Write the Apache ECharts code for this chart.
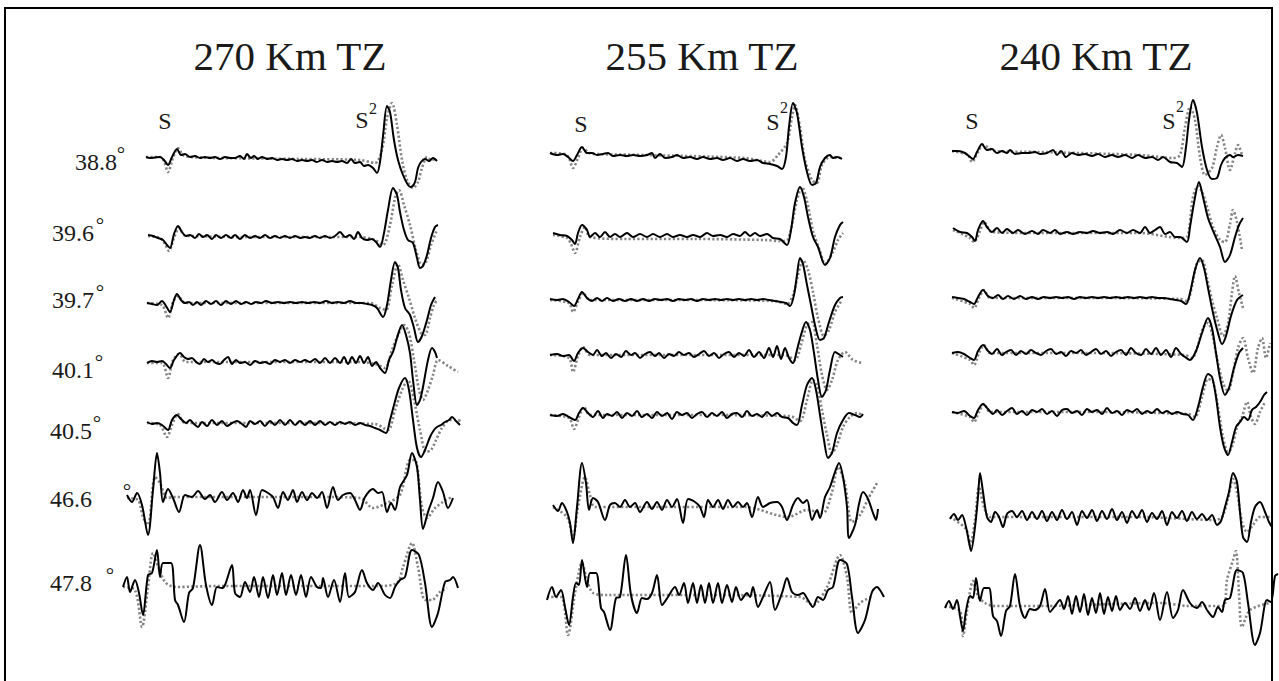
<!DOCTYPE html>
<html>
<head>
<meta charset="utf-8">
<script src="https://cdn.jsdelivr.net/npm/echarts@6/dist/echarts.min.js"></script>
<style>
  html, body { margin: 0; padding: 0; background: #fff; }
  #chart { width: 1279px; height: 681px; }
</style>
</head>
<body>
<div id="chart"></div>
<script>
// Transition-zone depth of each model column
const panelTitles = ['270 Km TZ', '255 Km TZ', '240 Km TZ'];
// Epicentral distance of each station (degrees), top to bottom
const distances = ['38.8', '39.6', '39.7', '40.1', '40.5', '46.6', '47.8'];
// Phase names
const phaseS = 'S';
const phaseS2 = 'S';
const phaseS2Index = '2';

// Waveforms: [time sample, amplitude]; obs = recorded (solid), syn = synthetic (dotted)
// ---- 270 km ----
const obs270_388 = [[26,1],[30,0],[35,0.5],[40,1],[44,-2],[48,-7],[52,1],[57,9],[61,3],[65,4],[70,1],[75,2],[80,0],[85,1],[90,0],[95,1],[100,-1],[105,1],[110,0],[115,0],[120,2],[124,-1],[127,4],[131,0],[134,2],[138,-1],[142,1],[147,-1],[152,0],[157,-2],[162,-1],[167,-2],[172,-1],[177,-3],[182,-2],[187,-3],[192,-2],[197,-4],[202,-2],[207,-4],[212,-3],[217,-4],[222,-3],[227,-5],[231,-1],[235,-5],[240,-4],[244,-8],[248,-7],[253,-10],[257,-15],[260,-4],[263,22],[267,52],[270,46],[274,18],[278,-2],[283,-17],[288,-27],[291,-29],[295,-24],[298,-10],[301,-4],[305,-1],[309,-3],[313,0],[317,-3]];
const syn270_388 = [[26,1],[40,1],[44,-3],[48,-14],[53,0],[58,10],[63,3],[70,1],[100,0],[180,-1],[240,-2],[255,-5],[262,8],[267,40],[272,55],[277,33],[282,-2],[287,-22],[293,-30],[298,-24],[302,-10],[307,1],[311,-2],[316,-1]];
const obs270_396 = [[28,2],[33,1],[38,-1],[43,-3],[47,-8],[50,-11],[54,3],[58,11],[62,5],[66,1],[70,2],[75,-1],[79,3],[83,0],[87,2],[92,-2],[96,2],[101,-1],[106,2],[111,-1],[115,2],[120,-2],[125,2],[130,-1],[135,1],[140,-1],[145,2],[150,-1],[155,1],[160,-1],[165,1],[170,-1],[175,1],[180,-1],[185,0],[190,-1],[195,1],[200,-1],[205,1],[210,-1],[215,1],[220,5],[225,0],[230,2],[234,-2],[238,5],[242,-1],[247,-3],[252,-2],[256,-5],[260,-10],[264,4],[268,27],[273,49],[277,42],[280,25],[284,7],[288,-3],[293,-6],[297,-21],[300,-31],[303,-29],[307,-18],[311,-1],[315,10],[318,12]];
const syn270_396 = [[28,1],[40,-1],[45,-7],[49,-14],[54,-1],[59,9],[64,2],[70,1],[130,0],[240,0],[255,-3],[263,-8],[270,12],[275,39],[279,47],[284,32],[290,12],[296,-13],[302,-28],[306,-25],[311,-8],[317,7]];
const obs270_397 = [[27,0],[32,-1],[37,-2],[42,2],[46,-3],[50,-9],[54,3],[57,9],[61,3],[65,0],[69,1],[73,-2],[77,1],[81,-2],[86,2],[91,-1],[96,2],[101,-2],[106,2],[111,-1],[116,2],[121,-1],[126,1],[131,-1],[136,1],[141,0],[146,2],[152,0],[158,1],[164,0],[170,1],[176,0],[182,1],[188,0],[194,1],[200,0],[206,2],[212,0],[218,1],[224,0],[230,2],[236,0],[242,0],[247,-1],[252,-2],[257,-5],[263,-14],[267,-2],[271,23],[275,41],[278,35],[281,13],[285,-5],[290,-12],[294,-25],[298,-39],[302,-33],[307,-17],[311,-2],[315,6]];
const syn270_397 = [[27,0],[42,-2],[48,-15],[53,1],[58,7],[65,0],[180,0],[250,0],[260,-5],[266,-7],[272,18],[278,39],[283,23],[289,5],[295,-15],[301,-30],[305,-32],[310,-15],[314,-2],[317,3]];
const obs270_401 = [[27,-1],[32,1],[37,0],[42,1],[46,-2],[50,-6],[54,2],[60,9],[64,5],[68,3],[72,4],[76,0],[80,-2],[84,3],[88,0],[92,2],[96,-1],[100,-2],[104,2],[108,5],[112,-2],[116,2],[120,-1],[125,0],[130,-3],[135,1],[140,-1],[145,0],[150,-2],[155,2],[160,0],[165,2],[170,-1],[175,2],[180,0],[185,2],[190,0],[195,3],[200,-1],[205,4],[210,-1],[215,4],[220,-1],[224,5],[228,-2],[232,5],[236,-1],[240,6],[244,-1],[248,5],[252,-4],[256,0],[260,-6],[265,-11],[269,2],[273,10],[277,24],[282,37],[286,27],[290,9],[293,-18],[297,-43],[300,-38],[303,-25],[308,2],[312,14],[315,10],[317,4]];
const syn270_401 = [[27,-1],[42,-1],[48,-16],[53,2],[59,8],[66,0],[180,0],[240,0],[255,-2],[265,-6],[272,12],[278,27],[284,37],[289,29],[294,2],[299,-28],[303,-38],[308,-28],[313,-13],[318,2],[328,-4],[338,-10]];
const obs270_405 = [[27,1],[32,-1],[37,0],[42,-2],[48,-7],[52,3],[57,8],[61,4],[66,0],[70,3],[74,-1],[78,-4],[82,1],[87,-3],[92,3],[97,-2],[102,2],[107,-3],[112,0],[117,2],[122,-1],[126,-4],[130,2],[135,-1],[140,2],[145,-3],[150,2],[155,-2],[160,3],[165,-2],[170,3],[175,-2],[180,2],[185,-2],[190,2],[195,-2],[200,2],[205,-2],[210,1],[215,-2],[220,1],[225,-1],[230,1],[235,-2],[240,0],[245,-2],[250,-3],[255,-5],[260,-7],[266,-10],[270,3],[274,18],[279,35],[285,45],[289,33],[293,3],[297,-25],[301,-34],[305,-27],[310,-14],[314,-7],[317,-4],[321,-2],[325,1],[329,3],[332,6],[336,2],[340,-2]];
const syn270_405 = [[27,0],[40,-2],[47,-14],[52,-2],[58,9],[65,0],[180,0],[255,-1],[268,-7],[275,13],[282,33],[288,43],[294,23],[300,-7],[306,-29],[311,-27],[316,-17],[322,-5],[330,3],[336,3],[342,2]];
const obs270_466 = [[7,2],[12,-5],[17,4],[22,-8],[28,-38],[33,7],[37,44],[40,24],[43,-5],[48,8],[53,-1],[59,-15],[65,2],[72,0],[78,6],[85,-2],[90,2],[95,-5],[102,5],[107,-3],[113,4],[118,-5],[123,7],[127,-1],[130,7],[136,-18],[142,7],[148,4],[153,0],[158,-11],[163,5],[168,-3],[173,7],[177,-5],[182,5],[187,-3],[192,4],[197,-1],[202,5],[207,-11],[213,10],[218,-3],[223,2],[230,4],[235,-3],[240,-13],[245,0],[253,8],[258,4],[262,5],[267,-15],[271,-6],[275,-13],[280,10],[287,22],[292,44],[297,30],[300,-3],[303,-32],[308,-15],[313,-1],[318,15],[323,5],[328,-11],[333,-1]];
const syn270_466 = [[7,-1],[18,-3],[23,-20],[28,-28],[35,20],[40,14],[47,-1],[55,0],[200,0],[240,-1],[253,-11],[267,-6],[280,2],[290,37],[295,37],[302,-10],[307,-21],[315,-11],[323,-5],[332,0]];
const obs270_478 = [[3,-1],[7,9],[10,-6],[15,6],[19,-7],[23,-29],[28,11],[32,13],[37,36],[40,9],[43,23],[51,23],[55,-14],[58,-19],[64,-36],[69,-7],[73,-2],[80,41],[86,1],[92,-19],[97,-1],[102,-2],[105,1],[112,21],[115,-7],[120,-11],[125,4],[130,-6],[134,9],[139,-11],[143,9],[148,-12],[153,11],[157,-9],[162,13],[166,-9],[171,11],[176,-9],[181,11],[186,-11],[191,9],[197,-1],[201,-2],[203,8],[208,-11],[214,6],[220,-16],[225,13],[229,-11],[235,-6],[242,16],[247,3],[253,-4],[258,3],[265,-9],[270,-12],[275,-1],[280,6],[285,9],[292,36],[299,31],[305,3],[312,-41],[318,-27],[325,4],[330,6],[333,9],[338,-2]];
const syn270_478 = [[3,-1],[15,-4],[22,-41],[28,-1],[33,33],[38,20],[45,4],[55,-1],[100,0],[257,0],[277,3],[283,19],[292,43],[298,19],[305,-14],[312,-14],[320,-6],[327,-2]];

// ---- 255 km ----
const obs255_388 = [[5,2],[12,0],[18,1],[23,-2],[28,-6],[32,0],[37,8],[42,2],[47,2],[52,0],[58,1],[63,2],[68,-1],[75,0],[82,-1],[88,0],[95,-1],[102,0],[107,2],[110,-3],[115,1],[120,-3],[127,-2],[132,0],[138,-3],[145,-2],[152,-4],[158,-2],[165,-4],[172,-3],[178,-5],[185,-3],[192,-6],[198,-4],[205,-6],[212,-5],[218,-8],[225,-9],[232,-11],[237,-14],[241,-2],[244,28],[248,52],[252,42],[257,8],[262,-17],[267,-30],[271,-28],[275,-12],[280,-3],[285,0],[288,-3],[292,-2],[297,-4]];
const syn255_388 = [[5,2],[20,1],[24,-3],[28,-13],[33,-3],[38,7],[44,2],[50,1],[100,0],[200,-3],[225,-7],[233,0],[242,12],[247,38],[250,50],[255,28],[260,-5],[267,-25],[272,-28],[277,-10],[285,-2],[297,-3]];
const obs255_396 = [[8,3],[15,1],[22,0],[27,-4],[30,-8],[33,3],[37,11],[42,6],[45,-1],[50,3],[55,-1],[60,4],[65,-1],[70,2],[75,-1],[82,3],[88,-1],[95,2],[102,-1],[108,2],[115,-1],[122,2],[128,-1],[135,1],[142,-1],[148,1],[155,-1],[162,3],[168,0],[175,1],[182,-1],[188,2],[195,0],[200,4],[205,0],[210,3],[215,0],[222,2],[228,-2],[235,-3],[242,-9],[246,6],[250,33],[255,49],[259,39],[263,19],[268,-1],[273,-11],[280,-29],[285,-22],[290,-1],[295,11],[298,14]];
const syn255_396 = [[8,1],[22,-2],[26,-8],[30,-17],[35,-1],[40,9],[45,-1],[80,-3],[150,-3],[220,-4],[235,-5],[243,-3],[252,36],[257,49],[262,35],[268,5],[275,-15],[280,-28],[287,-18],[293,-4],[298,3]];
const obs255_397 = [[5,1],[12,0],[18,1],[24,-2],[29,-6],[33,1],[37,8],[42,2],[47,-1],[52,2],[57,-1],[62,2],[68,-1],[74,1],[80,-1],[86,1],[92,-1],[98,1],[104,-1],[110,1],[116,0],[122,1],[128,-1],[134,1],[140,0],[146,1],[152,-1],[158,1],[164,0],[170,1],[176,0],[182,1],[188,0],[194,1],[200,0],[206,1],[212,0],[218,1],[224,0],[230,-1],[236,-2],[241,-3],[245,-6],[249,5],[252,25],[255,42],[258,36],[262,15],[266,-5],[270,-25],[275,-40],[279,-38],[284,-22],[290,-5],[295,2],[298,3]];
const syn255_397 = [[5,0],[24,-3],[28,-12],[33,-2],[38,7],[45,0],[120,0],[230,-1],[242,-4],[248,5],[253,25],[258,40],[263,30],[268,8],[273,-18],[279,-36],[284,-30],[290,-12],[297,0]];
const obs255_401 = [[5,0],[12,1],[18,-1],[24,0],[29,-6],[33,2],[38,7],[43,3],[48,0],[52,5],[57,-1],[61,2],[66,-3],[71,1],[76,-2],[81,4],[86,0],[90,2],[95,-3],[100,1],[105,3],[110,-1],[114,2],[119,-3],[124,1],[129,-1],[134,3],[139,0],[144,2],[149,-2],[154,1],[159,4],[164,-1],[169,2],[174,-3],[179,1],[184,3],[189,-2],[194,2],[199,-1],[204,5],[209,-2],[214,3],[219,-3],[224,7],[228,-2],[232,9],[236,-4],[240,7],[244,-3],[248,-8],[252,5],[256,20],[261,33],[265,25],[269,2],[273,-25],[277,-42],[281,-35],[285,-15],[290,3],[295,0],[298,-2]];
const syn255_401 = [[5,0],[24,-3],[28,-17],[33,-1],[38,8],[45,0],[150,0],[240,0],[250,-5],[256,10],[262,30],[267,33],[272,10],[277,-20],[282,-35],[287,-25],[293,-5],[300,3],[308,-5],[317,-8]];
const obs255_405 = [[5,0],[12,-1],[18,1],[24,-2],[30,-5],[34,2],[38,7],[43,2],[48,-2],[53,4],[58,-3],[62,1],[67,-1],[72,3],[77,-3],[82,2],[87,-1],[92,4],[97,-2],[102,1],[107,-3],[112,3],[117,-1],[122,2],[127,-4],[132,3],[137,0],[142,2],[147,-3],[152,1],[157,3],[162,-2],[167,2],[172,-1],[177,3],[182,-3],[187,1],[192,2],[197,-2],[202,4],[207,-1],[212,1],[217,-2],[222,3],[227,-1],[232,2],[237,-2],[243,-3],[248,-8],[252,-10],[257,10],[262,30],[267,37],[271,25],[275,0],[279,-25],[283,-43],[287,-38],[292,-18],[298,-5],[304,2],[310,0],[315,-2],[318,1]];
const syn255_405 = [[5,0],[24,-3],[29,-14],[34,-2],[39,8],[45,0],[150,0],[245,-1],[255,-6],[262,15],[268,35],[272,30],[277,5],[282,-20],[287,-38],[292,-30],[298,-12],[305,-2],[312,2],[318,0]];
const obs255_466 = [[8,2],[13,-4],[17,4],[22,-5],[25,-16],[28,-36],[32,0],[37,44],[41,24],[44,-3],[48,9],[53,5],[60,-13],[65,2],[70,4],[75,0],[80,7],[85,0],[90,4],[95,-5],[102,5],[107,-2],[112,5],[117,-3],[122,7],[127,0],[132,8],[138,-16],[143,8],[150,5],[155,0],[159,-10],[163,7],[168,0],[173,7],[178,-2],[183,7],[188,0],[193,5],[198,0],[202,4],[207,-10],[213,10],[218,0],[225,4],[232,5],[237,0],[242,-13],[248,2],[253,9],[258,4],[262,7],[267,-13],[272,-3],[275,-11],[280,10],[285,20],[290,35],[294,44],[298,30],[302,0],[304,-31],[310,-18],[314,3],[318,15],[323,8],[328,-6],[331,-13],[333,-2]];
const syn255_466 = [[8,0],[22,-10],[28,-30],[33,0],[40,30],[45,12],[50,0],[100,0],[200,0],[243,-10],[262,-3],[278,-6],[287,15],[293,40],[300,23],[307,-15],[315,-8],[323,8],[332,24]];
const obs255_478 = [[2,-5],[7,8],[11,-2],[16,5],[20,-12],[24,-30],[28,-2],[31,12],[34,10],[37,35],[42,8],[45,22],[51,22],[56,-13],[59,-17],[65,-35],[71,-3],[75,-2],[81,40],[86,0],[92,-18],[97,-3],[102,-4],[107,2],[112,20],[117,-10],[123,-2],[130,8],[134,0],[139,12],[143,-8],[148,12],[152,-8],[156,10],[160,-8],[164,12],[168,-8],[173,12],[177,-8],[182,10],[187,-7],[191,8],[196,-5],[202,2],[205,-2],[208,8],[213,-12],[218,-2],[225,13],[230,-15],[237,2],[242,17],[247,3],[253,0],[258,2],[263,-5],[268,-12],[273,-2],[278,-5],[283,5],[288,8],[295,35],[302,31],[307,-2],[313,-38],[320,-25],[327,3],[332,8],[335,5],[339,-2]];
const syn255_478 = [[2,-2],[16,-2],[23,-40],[30,2],[37,32],[42,15],[48,2],[62,0],[150,0],[255,-2],[268,-10],[282,8],[295,40],[302,18],[307,-18],[315,-8],[328,-1]];

// ---- 240 km ----
const obs240_388 = [[12,2],[18,2],[25,0],[30,-4],[33,-6],[37,1],[42,9],[47,3],[52,4],[57,0],[62,2],[67,0],[70,3],[75,-1],[82,0],[88,0],[95,1],[100,-1],[107,0],[113,3],[117,-2],[121,2],[126,-4],[132,0],[138,-2],[145,-1],[152,-3],[158,-1],[165,-4],[172,-2],[178,-4],[185,-2],[192,-5],[198,-2],[205,-5],[212,-4],[218,-7],[223,-4],[230,-9],[237,-10],[242,-14],[246,6],[249,33],[253,53],[257,40],[262,6],[267,-17],[272,-26],[277,-25],[281,-12],[285,-5],[290,-2],[293,-4],[298,-2],[303,-3]];
const syn240_388 = [[12,2],[28,-2],[32,-9],[38,1],[43,8],[55,2],[100,1],[200,-2],[233,-5],[240,-2],[245,26],[250,46],[255,33],[260,-4],[265,-22],[272,-15],[277,6],[281,18],[285,5],[290,-17],[295,0],[298,8],[302,-2]];
const obs240_396 = [[13,4],[20,0],[27,-1],[32,-5],[35,-9],[38,2],[43,11],[47,5],[52,0],[57,4],[62,-1],[67,3],[73,-1],[78,2],[85,-2],[92,1],[98,-2],[103,2],[110,-1],[115,2],[120,-2],[127,0],[133,-2],[140,0],[147,-1],[153,1],[160,-1],[167,0],[173,-2],[180,2],[187,-1],[193,2],[200,-1],[205,5],[210,-1],[215,2],[220,5],[225,-2],[230,0],[235,-5],[240,-5],[247,-10],[250,5],[254,29],[259,50],[263,35],[268,14],[274,-1],[280,-15],[285,-30],[290,-23],[295,-5],[299,7],[303,14]];
const syn240_396 = [[13,2],[30,-6],[34,-10],[40,1],[44,10],[52,0],[100,-1],[200,-1],[240,-6],[247,-5],[253,35],[258,46],[263,38],[268,22],[273,5],[280,-8],[285,-10],[290,8],[293,22],[297,10],[302,-18]];
const obs240_397 = [[12,1],[18,0],[24,-1],[30,-4],[34,-6],[38,1],[43,8],[48,2],[53,0],[58,3],[63,-1],[68,2],[74,-1],[80,2],[86,-1],[92,1],[98,-1],[104,1],[110,0],[116,1],[122,0],[128,1],[134,-1],[140,1],[146,0],[152,1],[158,0],[164,1],[170,0],[176,1],[182,0],[188,1],[194,0],[200,1],[206,0],[212,1],[218,0],[224,0],[230,-1],[236,-2],[241,-3],[246,-6],[250,5],[255,28],[260,40],[264,30],[268,10],[273,-15],[278,-35],[282,-46],[286,-38],[291,-18],[297,-2],[303,3]];
const syn240_397 = [[12,0],[30,-6],[34,-10],[39,0],[44,8],[50,0],[150,0],[240,-1],[247,-3],[252,12],[257,35],[262,38],[267,20],[272,-2],[277,-20],[283,-38],[288,-25],[292,5],[295,22],[299,5],[303,-10]];
const obs240_401 = [[12,0],[18,1],[24,-1],[30,-5],[34,-7],[38,2],[43,8],[48,2],[52,-1],[57,4],[62,-2],[66,1],[71,3],[76,-2],[81,2],[86,-1],[91,3],[96,0],[101,-2],[106,2],[111,4],[116,-1],[121,1],[126,-3],[131,2],[136,0],[141,3],[146,-2],[151,1],[156,4],[161,-1],[166,2],[171,-3],[176,1],[181,3],[186,-2],[191,5],[196,0],[201,-2],[206,4],[211,-1],[216,5],[221,-2],[226,3],[231,-4],[236,5],[241,-1],[245,-4],[250,-7],[256,2],[262,20],[268,35],[272,25],[276,0],[280,-25],[285,-42],[289,-35],[294,-15],[299,0],[303,5]];
const syn240_401 = [[12,0],[30,-7],[34,-12],[39,0],[44,8],[50,0],[150,0],[245,-2],[252,-5],[258,8],[263,25],[268,30],[272,20],[277,-5],[283,-30],[288,-38],[293,-20],[298,5],[303,15],[308,-5],[313,-20],[318,5],[322,15],[326,-5],[330,10]];
const obs240_405 = [[12,0],[18,-1],[24,1],[30,-4],[34,-6],[38,2],[43,8],[48,3],[53,-2],[57,2],[62,-3],[67,1],[72,4],[77,-2],[82,1],[87,-3],[92,2],[97,0],[102,3],[107,-2],[112,1],[117,-4],[122,2],[127,3],[132,-1],[137,1],[142,-3],[147,3],[152,0],[157,2],[162,-2],[167,4],[172,-1],[177,1],[182,-3],[187,2],[192,0],[197,3],[202,-2],[207,1],[212,-1],[217,3],[222,-1],[227,1],[232,-2],[237,0],[243,-2],[248,-3],[253,-8],[258,5],[263,25],[268,38],[272,35],[276,15],[280,-15],[284,-35],[288,-43],[292,-30],[296,-15],[300,-10],[304,-5],[308,-8],[312,2],[316,5],[320,10],[324,17],[327,20]];
const syn240_405 = [[12,0],[30,-5],[34,-10],[39,0],[44,8],[50,0],[150,0],[248,-2],[255,-5],[262,15],[268,33],[273,30],[278,5],[283,-25],[288,-40],[292,-35],[297,-15],[302,-5],[307,10],[311,-5],[315,-12],[320,0],[325,10]];
const obs240_466 = [[10,-2],[14,3],[18,-3],[22,2],[26,-10],[29,-25],[31,-34],[35,-10],[38,20],[40,44],[43,25],[47,0],[51,-5],[55,5],[59,0],[63,-10],[67,3],[72,6],[77,0],[82,6],[87,-3],[92,5],[97,-2],[102,6],[107,-4],[112,5],[117,-3],[122,7],[127,-2],[132,5],[137,-8],[142,6],[147,-1],[152,7],[157,-4],[162,6],[167,-2],[172,8],[177,-3],[182,5],[187,-6],[192,6],[197,-1],[202,7],[207,-5],[212,4],[217,-2],[222,6],[227,-8],[232,5],[237,-1],[242,6],[247,-4],[252,5],[257,-2],[262,3],[267,-3],[272,2],[277,-8],[281,-4],[285,10],[289,25],[293,44],[297,35],[300,5],[303,-20],[307,-25],[311,-5],[315,10],[320,15],[325,5],[329,-5],[332,-10]];
const syn240_466 = [[10,0],[26,-12],[30,-28],[35,-3],[39,30],[44,10],[50,0],[100,0],[200,0],[275,-3],[282,0],[288,18],[293,38],[297,25],[302,-5],[307,-15],[313,-8],[320,0],[330,0]];
const obs240_478 = [[5,-2],[9,5],[13,-3],[17,6],[20,-10],[23,-25],[26,-5],[30,10],[33,8],[36,28],[40,5],[44,18],[49,18],[53,-10],[57,-15],[61,-30],[66,-5],[70,0],[75,32],[80,0],[85,-12],[90,-3],[95,-4],[100,0],[105,17],[110,-6],[115,0],[120,6],[124,-3],[128,10],[132,-8],[136,10],[140,-6],[144,12],[148,-9],[152,8],[156,-7],[160,13],[164,-8],[168,9],[172,-5],[176,10],[180,-4],[185,3],[190,-3],[195,8],[200,-5],[205,6],[209,-4],[214,13],[220,-14],[227,14],[233,-12],[238,-4],[243,16],[250,3],[257,-2],[262,4],[267,-4],[273,-11],[278,-1],[282,-6],[285,6],[290,8],[297,36],[303,33],[308,3],[315,-39],[320,-27],[327,6],[331,4],[335,30],[338,32]];
const syn240_478 = [[5,0],[20,-5],[23,-30],[27,-5],[33,25],[38,10],[45,3],[55,0],[100,0],[220,3],[250,0],[283,0],[287,26],[293,46],[296,55],[299,13],[302,-21],[310,-4],[330,3]];

const observed = [
  [obs270_388, obs270_396, obs270_397, obs270_401, obs270_405, obs270_466, obs270_478],
  [obs255_388, obs255_396, obs255_397, obs255_401, obs255_405, obs255_466, obs255_478],
  [obs240_388, obs240_396, obs240_397, obs240_401, obs240_405, obs240_466, obs240_478]
];
const synthetic = [
  [syn270_388, syn270_396, syn270_397, syn270_401, syn270_405, syn270_466, syn270_478],
  [syn255_388, syn255_396, syn255_397, syn255_401, syn255_405, syn255_466, syn255_478],
  [syn240_388, syn240_396, syn240_397, syn240_401, syn240_405, syn240_466, syn240_478]
];

// ---- layout ----
const panelLeft = [120, 545, 940];
const panelTitleX = [290, 702, 1096];
const traceBaseline = [
  [158, 237, 303, 362, 423, 497, 586],
  [155, 236, 300, 355, 415, 507, 595],
  [153, 232, 298, 353, 412, 517, 606]
];
const HALF = 80;    // amplitude half-range of each trace strip
const SPAN = 345;   // time samples across a panel
const SERIF = '"Liberation Serif", "Times New Roman", serif';

const grids = [], xAxes = [], yAxes = [], series = [];
let gi = 0;
for (let p = 0; p < 3; p++) {
  for (let r = 0; r < distances.length; r++) {
    grids.push({ left: panelLeft[p], top: traceBaseline[p][r] - HALF, width: SPAN, height: 2 * HALF, outerBoundsMode: 'none', containLabel: false });
    xAxes.push({ gridIndex: gi, type: 'value', min: 0, max: SPAN, show: false });
    yAxes.push({ gridIndex: gi, type: 'value', min: -HALF, max: HALF, show: false });
    series.push({
      type: 'line', xAxisIndex: gi, yAxisIndex: gi, data: synthetic[p][r],
      showSymbol: false, smooth: 0.3, clip: false, silent: true, z: 2,
      lineStyle: { color: '#858585', width: 2.6, type: [2.2, 2.2] }
    });
    series.push({
      type: 'line', xAxisIndex: gi, yAxisIndex: gi, data: observed[p][r],
      showSymbol: false, smooth: 0.3, clip: false, silent: true, z: 3,
      lineStyle: { color: '#000', width: 2 }
    });
    gi++;
  }
}

// ---- text ----
const graphics = [];
graphics.push({ type: 'rect', silent: true, z: 10,
  shape: { x: 5, y: 8, width: 1267, height: 700 },
  style: { fill: 'none', stroke: '#000', lineWidth: 2 } });

panelTitles.forEach((t, i) => graphics.push({ type: 'text', x: panelTitleX[i], y: 56, z: 10,
  style: { text: t, font: '41px ' + SERIF, fill: '#1a1a1a', align: 'center', verticalAlign: 'middle' } }));

const labelX = [75, 52, 52, 52, 50, 50, 50];
const labelY = [162, 233, 300, 370, 431, 499, 583];
const degreeX = [121, 100, 100, 99, 97, 127, 110];
distances.forEach((d, i) => {
  graphics.push({ type: 'text', x: labelX[i], y: labelY[i], z: 10,
    style: { text: d, font: '24px ' + SERIF, fill: '#1a1a1a', align: 'left', verticalAlign: 'middle' } });
  graphics.push({ type: 'text', x: degreeX[i], y: labelY[i] - 8, z: 10,
    style: { text: '°', font: '21px ' + SERIF, fill: '#1a1a1a', align: 'center', verticalAlign: 'middle' } });
});

const sX = [165, 581, 972], sY = [121, 124, 121];
const s2X = [362, 773, 1169], s2Y = [120, 122, 121];
const idxX = [373, 784, 1180], idxY = [108, 107, 106];
for (let p = 0; p < 3; p++) {
  graphics.push({ type: 'text', x: sX[p], y: sY[p], z: 10,
    style: { text: phaseS, font: '24px ' + SERIF, fill: '#1a1a1a', align: 'center', verticalAlign: 'middle' } });
  graphics.push({ type: 'text', x: s2X[p], y: s2Y[p], z: 10,
    style: { text: phaseS2, font: '24px ' + SERIF, fill: '#1a1a1a', align: 'center', verticalAlign: 'middle' } });
  graphics.push({ type: 'text', x: idxX[p], y: idxY[p], z: 10,
    style: { text: phaseS2Index, font: '16px ' + SERIF, fill: '#1a1a1a', align: 'center', verticalAlign: 'middle' } });
}

const chart = echarts.init(document.getElementById('chart'), null, { renderer: 'svg' });
chart.setOption({
  animation: false,
  backgroundColor: '#fff',
  grid: grids,
  xAxis: xAxes,
  yAxis: yAxes,
  series: series,
  graphic: graphics
});
</script>
</body>
</html>
